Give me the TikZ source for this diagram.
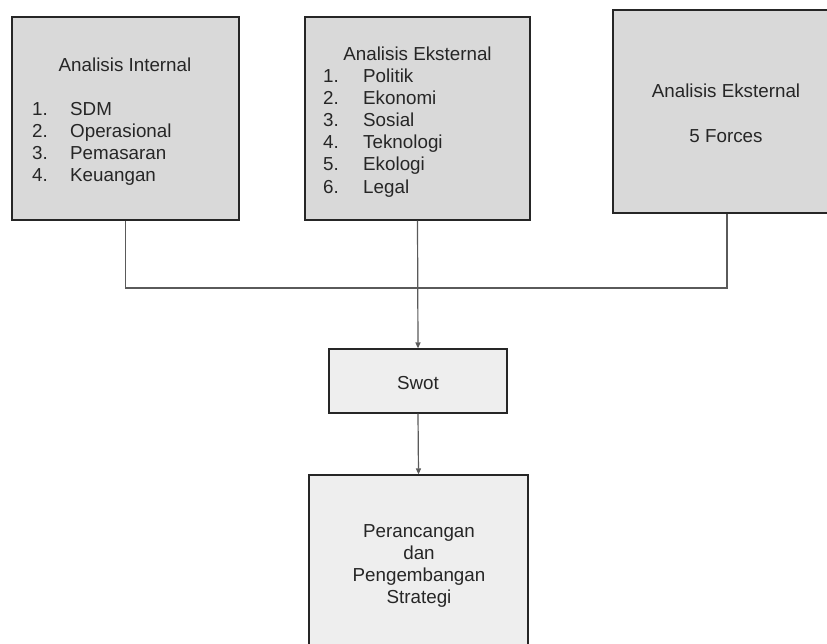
\documentclass[tikz,border=0pt]{standalone}
\usepackage{fontspec}
\setmainfont{Liberation Sans}
\usetikzlibrary{arrows.meta}
\usetikzlibrary{positioning}
\definecolor{panel-gray}{RGB}{217, 217, 217}
\definecolor{light-gray}{RGB}{238, 238, 238}
\definecolor{line-gray}{RGB}{90, 90, 90}

\begin{document}
\begin{tikzpicture}[x=1pt, y=-1pt,
        panel/.style={draw=black!85, line width=1.2pt, fill=panel-gray, inner sep=0pt},
        lightpanel/.style={draw=black!85, line width=1.2pt, fill=light-gray, inner sep=0pt},
        txt/.style={inner sep=0pt, font=\fontsize{18.8}{22}\selectfont, text=black!85},
        conn/.style={draw=line-gray, line width=1.2pt},
        arr/.style={conn, -{Triangle[length=6pt, width=5pt]}}]
    \clip (0, 0) rectangle (827, 643);
    \fill[white] (0, 0) rectangle (827, 643);
    % boxes
    \node[panel, minimum width=227pt, minimum height=203pt] (internal) at (125.5, 118.5) {};
    \node[panel, minimum width=225pt, minimum height=203pt] (pestel) at (417.5, 118.5) {};
    \node[panel, minimum width=228pt, minimum height=203pt] (forces) at (727, 111.5) {};
    \node[lightpanel, minimum width=178pt, minimum height=64pt] (swot) at (418, 381) {};
    \node[lightpanel, minimum width=219pt, minimum height=177pt] (strategi) at (418.5, 563.5) {};
    % texts
    \node[txt, anchor=base] (internal-title) at (125, 71.5) {Analisis Internal};
    \foreach \i/\t in {1/SDM, 2/Operasional, 3/Pemasaran, 4/Keuangan} {
        \node[txt, anchor=base west] (internal-n\i) at (32, 115+22*\i-22) {\i.};
        \node[txt, anchor=base west] (internal-t\i) at (70, 115+22*\i-22) {\t};
    }
    \node[txt, anchor=base] (pestel-title) at (417.5, 60) {Analisis Eksternal};
    \foreach \i/\t in {1/Politik, 2/Ekonomi, 3/Sosial, 4/Teknologi, 5/Ekologi, 6/Legal} {
        \node[txt, anchor=base west] (pestel-n\i) at (323, 82+22.2*\i-22.2) {\i.};
        \node[txt, anchor=base west] (pestel-t\i) at (363, 82+22.2*\i-22.2) {\t};
    }
    \node[txt, anchor=base] (forces-title) at (726, 97) {Analisis Eksternal};
    \node[txt, anchor=base] (forces-sub) at (726, 142) {5 Forces};
    \node[txt, anchor=base] (swot-label) at (418, 389) {Swot};
    \foreach \i/\t in {1/Perancangan, 2/dan, 3/Pengembangan, 4/Strategi} {
        \node[txt, anchor=base] (strategi-t\i) at (419, 537+22*\i-22) {\t};
    }
    % connectors
    \coordinate (join) at (418, 288);
    \draw[conn] (internal.south) |- (join);
    \draw[conn] (forces.south) |- (join);
    \draw[arr] (pestel.south) -- (swot.north);
    \draw[arr] (swot.south) -- (strategi.north);
\end{tikzpicture}
\end{document}
